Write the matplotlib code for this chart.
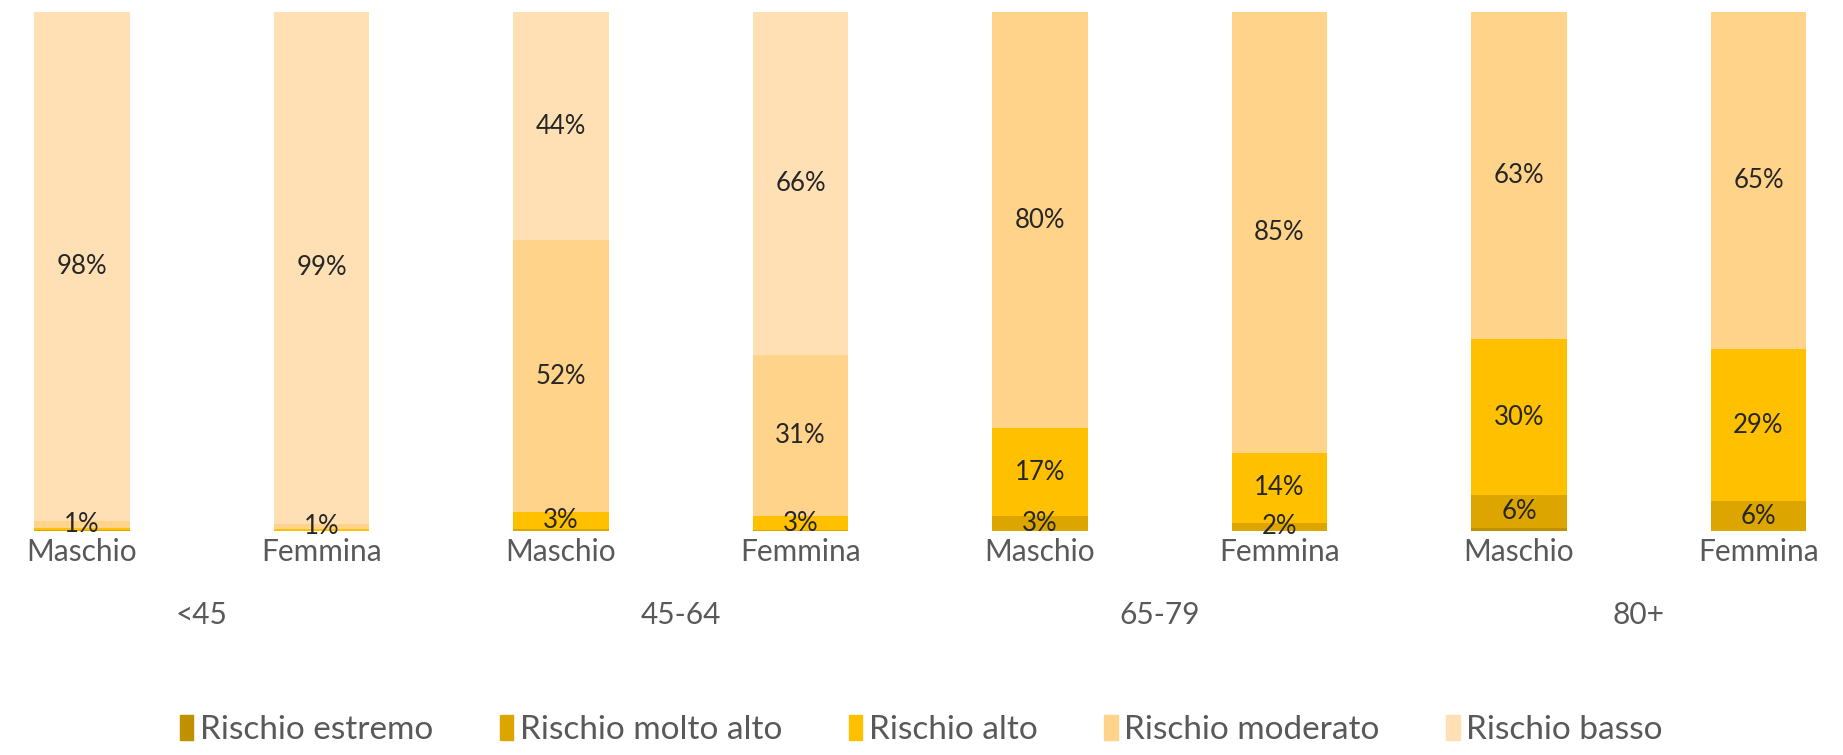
import numpy as np
import matplotlib
matplotlib.use('Agg')
import matplotlib.pyplot as plt
from matplotlib.patches import Patch

plt.rcParams['font.family'] = ['Lato', 'DejaVu Sans']

sexes = ['Maschio', 'Femmina', 'Maschio', 'Femmina', 'Maschio', 'Femmina', 'Maschio', 'Femmina']
age_groups = ['<45', '45-64', '65-79', '80+']

series_names = ['Rischio estremo', 'Rischio molto alto', 'Rischio alto', 'Rischio moderato', 'Rischio basso']
estremo = [0, 0, 0, 0, 0, 0, 0.5, 0]
molto_alto = [0.2, 0.0, 0.3, 0.2, 2.8, 1.6, 6.4, 5.7]
alto = [0.4, 0.4, 3.4, 2.6, 17.0, 13.5, 30.0, 29.3]
moderato = [1.3, 1.0, 52.3, 31.2, 80.2, 84.9, 63.1, 65.0]
basso = [98.1, 98.6, 44.0, 66.0, 0, 0, 0, 0]

colors = ['#BF9000', '#DCA500', '#FFC000', '#FFD38A', '#FFE0B5']

fig = plt.figure(figsize=(18.43, 7.55), dpi=100)
ax = fig.add_axes([0, 1 - 531 / 755, 1, (531 - 12) / 755])

x = np.arange(len(sexes))
bottom = np.zeros(len(sexes))
for vals, name, col in zip([estremo, molto_alto, alto, moderato, basso], series_names, colors):
    vals = np.array(vals, dtype=float)
    ax.bar(x, vals, 0.4, bottom=bottom, color=col, label=name)
    for xi, b, v in zip(x, bottom, vals):
        if v >= 1:
            ax.text(xi, b + v / 2, f'{v:.0f}%', ha='center', va='center',
                    fontsize=18.5, color='#262626')
    bottom += vals

ax.set_xlim((0 - 82) / 239.5, (1843 - 82) / 239.5)
ax.set_ylim(0, 100)
ax.set_yticks([])
ax.set_xticks(x)
ax.set_xticklabels(sexes, fontsize=21.5, color='#595959')
ax.tick_params(axis='x', length=0, pad=5)
for s in ax.spines.values():
    s.set_visible(False)

# age group labels under each pair
for i, g in enumerate(age_groups):
    ax.text(2 * i + 0.5, (531 - 615) / 519 * 100, g, ha='center', va='center',
            fontsize=21.5, color='#595959')

handles = [Patch(color=c, label=n) for c, n in zip(colors, series_names)]
fig.legend(handles=handles, loc='center', bbox_to_anchor=(0.5, 1 - 730 / 755),
           ncol=5, frameon=False, fontsize=24, labelcolor='#595959',
           handlelength=0.4, handleheight=0.8, handletextpad=0.2, columnspacing=2.0)

fig.savefig('out.png', dpi=100)
